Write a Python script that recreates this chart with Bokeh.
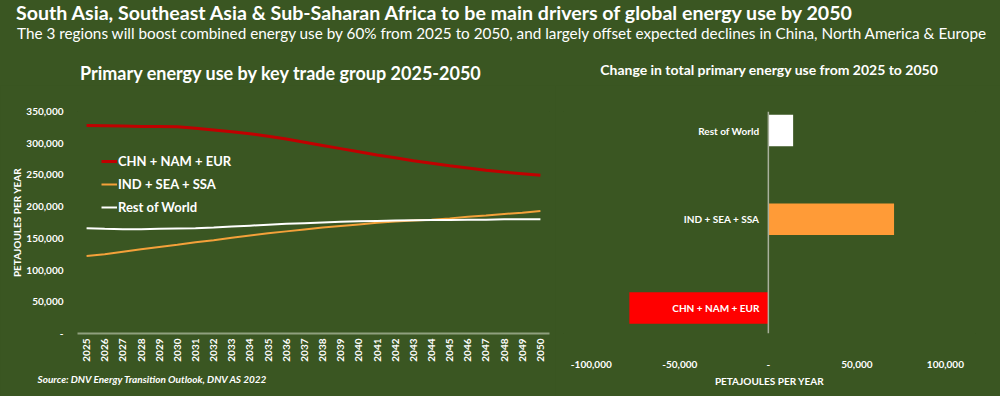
import math
from bokeh.plotting import figure
from bokeh.models import (Range1d, FactorRange, FixedTicker, NumeralTickFormatter, Span,
                          Legend, LegendItem, Div, ColumnDataSource, Title)
from bokeh.layouts import column, row
from bokeh.core.properties import value
from bokeh.embed import file_html
from bokeh.resources import INLINE

# ---------------- data ----------------
years = [str(y) for y in range(2025, 2051)]
chn_nam_eur = [328000, 327500, 327000, 326500, 326500, 326000, 323500, 321000, 318000, 315000,
               311000, 306500, 301500, 296500, 291500, 286500, 281500, 277000, 272500, 268500,
               264500, 261000, 257500, 254500, 252000, 249500]
ind_sea_ssa = [122000, 125000, 129000, 133000, 136500, 140000, 144000, 147000, 151000, 154500,
               158000, 161000, 164000, 167000, 169500, 172000, 174500, 176500, 178000, 179500,
               181500, 184000, 186000, 188500, 190500, 193000]
rest_of_world = [166000, 165000, 164500, 164500, 165000, 165500, 166000, 167000, 168500, 170000,
                 171500, 173000, 174000, 175000, 176000, 177000, 177500, 178000, 178500, 179000,
                 179000, 179500, 179500, 180000, 180000, 180000]
series_names = ["CHN + NAM + EUR", "IND + SEA + SSA", "Rest of World"]
y_ticks = [0, 50000, 100000, 150000, 200000, 250000, 300000, 350000]
x_ticks_change = [-100000, -50000, 0, 50000, 100000]
change_groups = ["CHN + NAM + EUR", "IND + SEA + SSA", "Rest of World"]
change_values = [chn_nam_eur[-1] - chn_nam_eur[0],
                 ind_sea_ssa[-1] - ind_sea_ssa[0],
                 rest_of_world[-1] - rest_of_world[0]]

title_text = "South Asia, Southeast Asia &amp; Sub-Saharan Africa to be main drivers of global energy use by 2050"
subtitle_text = ("The 3 regions will boost combined energy use by 60% from 2025 to 2050, and largely offset "
                 "expected declines in China, North America &amp; Europe")
left_title = "Primary energy use by key trade group 2025-2050"
right_title = "Change in total primary energy use from 2025 to 2050"
source_text = "Source: DNV Energy Transition Outlook, DNV AS 2022"
unit_label = "PETAJOULES PER YEAR"

BG = "#3A5622"
FONT = "Lato"
WHITE = "#FFFFFF"
LINE_COLORS = ["#C00000", "#F4A13A", "#FFFFFF"]
BAR_COLORS = ["#FF0000", "#FF9B37", "#FFFFFF"]

# ---------------- header (titles) ----------------
def abs_text(txt, left, top, size, bold, lh="1.2", extra=""):
    w = "bold" if bold else "normal"
    return (f'<div style="position:absolute;left:{left}px;top:{top}px;font-family:{FONT};'
            f'font-weight:{w};font-size:{size}px;line-height:{lh};color:#fff;white-space:nowrap;{extra}">'
            f'{txt}</div>')

header = Div(
    text=('<div style="position:relative;width:1000px;height:85px;">'
          + abs_text(title_text, 16, 0.5, 19.6, True)
          + abs_text(subtitle_text, 17, 24.2, 15.3, False)
          + abs_text(left_title, 80, 63, 18, True)
          + abs_text(right_title, 600, 61.5, 14, True, "1.2", "width:338px;text-align:center;")
          + '</div>'),
    width=1000, height=85, margin=0,
    styles={"background-color": BG},
)

# ---------------- left chart ----------------
p1 = figure(width=555, height=311, x_range=FactorRange(factors=years), y_range=Range1d(0, 350000),
            output_backend="svg", toolbar_location=None,
            min_border_left=77, min_border_right=6, min_border_top=26, min_border_bottom=63,
            background_fill_color=BG, border_fill_color=BG, outline_line_color=None)
p1.xgrid.grid_line_color = None
p1.ygrid.grid_line_color = None

src = ColumnDataSource(dict(year=years, a=chn_nam_eur, b=ind_sea_ssa, c=rest_of_world))
r1 = p1.line("year", "a", source=src, line_color=LINE_COLORS[0], line_width=3)
r2 = p1.line("year", "b", source=src, line_color=LINE_COLORS[1], line_width=2)
r3 = p1.line("year", "c", source=src, line_color=LINE_COLORS[2], line_width=2)

legend = Legend(items=[LegendItem(label=series_names[0], renderers=[r1]),
                       LegendItem(label=series_names[1], renderers=[r2]),
                       LegendItem(label=series_names[2], renderers=[r3])],
                location=(24, 116), background_fill_alpha=0, border_line_color=None,
                label_text_color=WHITE, label_text_font=FONT, label_text_font_style="bold",
                label_text_font_size="13px", glyph_width=16, glyph_height=20, label_height=20,
                spacing=3, padding=0, margin=0, label_standoff=1)
p1.add_layout(legend, "center")

ya = p1.yaxis[0]
ya.ticker = FixedTicker(ticks=y_ticks)
ya.formatter = NumeralTickFormatter(format="0,0")
ya.major_label_overrides = {0: "-"}
ya.axis_line_color = None
ya.major_tick_line_color = None
ya.minor_tick_line_color = None
ya.major_tick_out = 0
ya.major_label_standoff = 14
ya.major_label_text_color = WHITE
ya.major_label_text_font = FONT
ya.major_label_text_font_style = "bold"
ya.major_label_text_font_size = "10px"
ya.axis_label = unit_label
ya.axis_label_text_color = WHITE
ya.axis_label_text_font = FONT
ya.axis_label_text_font_style = "bold"
ya.axis_label_text_font_size = "10px"
ya.axis_label_standoff = 0

xa = p1.xaxis[0]
xa.axis_line_color = "#8FA07E"
xa.axis_line_width = 2
xa.major_tick_line_color = None
xa.minor_tick_line_color = None
xa.major_tick_out = 0
xa.major_label_orientation = math.pi / 2
xa.major_label_standoff = 5
xa.major_label_text_color = WHITE
xa.major_label_text_font = FONT
xa.major_label_text_font_style = "bold"
xa.major_label_text_font_size = "10px"

p1.add_layout(Title(text=source_text, align="left", offset=-40, standoff=13,
                    text_color=WHITE, text_font=FONT, text_font_style="bold italic",
                    text_font_size="10px"), "below")

# ---------------- right chart ----------------
idx = list(range(len(change_groups)))
p2 = figure(width=445, height=311, y_range=Range1d(-0.2875, 2.2155),
            x_range=Range1d(-115700, 117000),
            output_backend="svg", toolbar_location=None,
            min_border_left=8, min_border_right=25, min_border_top=26, min_border_bottom=63,
            background_fill_color=BG, border_fill_color=BG, outline_line_color=None)
p2.xgrid.grid_line_color = None
p2.ygrid.grid_line_color = None
p2.yaxis.visible = False

bsrc = ColumnDataSource(dict(i=idx, g=change_groups, v=change_values, c=BAR_COLORS))
p2.hbar(y="i", right="v", left=0, height=0.355, source=bsrc, fill_color="c", line_color=None)
p2.add_layout(Span(location=0, dimension="height", line_color="#A8B09C", line_width=1.5))
p2.text(x=0, y="i", text="g", source=bsrc, x_offset=-9, text_align="right",
        text_baseline="middle", text_color=WHITE, text_font=value(FONT),
        text_font_style="bold", text_font_size="10px")

xb = p2.xaxis[0]
xb.ticker = FixedTicker(ticks=x_ticks_change)
xb.formatter = NumeralTickFormatter(format="0,0")
xb.major_label_overrides = {0: "-"}
xb.axis_line_color = None
xb.major_tick_line_color = None
xb.minor_tick_line_color = None
xb.major_tick_out = 0
xb.major_label_standoff = 27
xb.major_label_text_color = WHITE
xb.major_label_text_font = FONT
xb.major_label_text_font_style = "bold"
xb.major_label_text_font_size = "10px"
xb.axis_label = unit_label
xb.axis_label_text_color = WHITE
xb.axis_label_text_font = FONT
xb.axis_label_text_font_style = "bold"
xb.axis_label_text_font_size = "10px"
xb.axis_label_standoff = 4

layout = column(header, row(p1, p2, spacing=0), spacing=0, styles={"background-color": BG})

template = "{% block postamble %}<style>html, body { background-color: " + BG + "; }</style>{% endblock %}"
open("out.html", "w").write(file_html(layout, INLINE, template=template))
